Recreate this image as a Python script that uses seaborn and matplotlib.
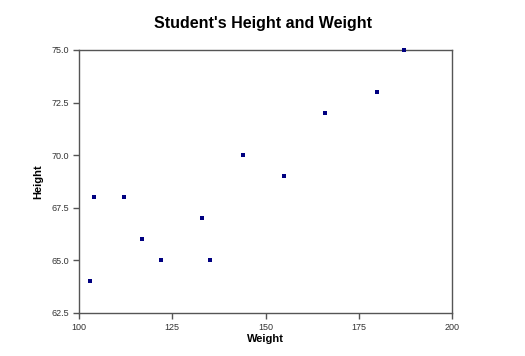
import matplotlib
matplotlib.use("Agg")
import matplotlib.pyplot as plt
import seaborn as sns
import pandas as pd

weight = [103, 104, 112, 117, 122, 133, 135, 144, 155, 166, 180, 187]
height = [64, 68, 68, 66, 65, 67, 65, 70, 69, 72, 73, 75]
x_ticks = [100, 125, 150, 175, 200]
y_ticks = [62.5, 65.0, 67.5, 70.0, 72.5, 75.0]

df = pd.DataFrame({"Weight": weight, "Height": height})

sns.set_style("white")
plt.rcParams['font.family'] = ['Liberation Sans', 'DejaVu Sans']

fig = plt.figure(figsize=(5.25, 3.56), dpi=100)
ax = fig.add_axes([0.1505, 0.1208, 0.7105, 0.7388])
sns.scatterplot(data=df, x="Weight", y="Height", ax=ax, color="#000080",
                marker="s", s=6, linewidth=0, clip_on=False, zorder=5)

ax.set_xlim(100, 200)
ax.set_ylim(62.5, 75.0)
ax.set_xticks(x_ticks)
ax.set_xticklabels([str(t) for t in x_ticks])
ax.set_yticks(y_ticks)
ax.set_yticklabels([f"{t:.1f}" for t in y_ticks])
for s in ax.spines.values():
    s.set_color("#555555")
    s.set_linewidth(1.0)
ax.tick_params(axis="both", direction="out", length=4, width=1, color="#555555",
               labelsize=6.5, labelcolor="#333333", pad=3,
               bottom=True, left=True, top=False, right=False)
ax.set_xlabel("Weight", fontsize=8, fontweight="bold", labelpad=2, color="black")
ax.set_ylabel("Height", fontsize=8, fontweight="bold", labelpad=6, color="black")
fig.text(0.5, 0.935, "Student's Height and Weight", ha="center", va="center",
         fontsize=11.5, fontweight="bold", color="black")
fig.savefig("out.png", dpi=100)
